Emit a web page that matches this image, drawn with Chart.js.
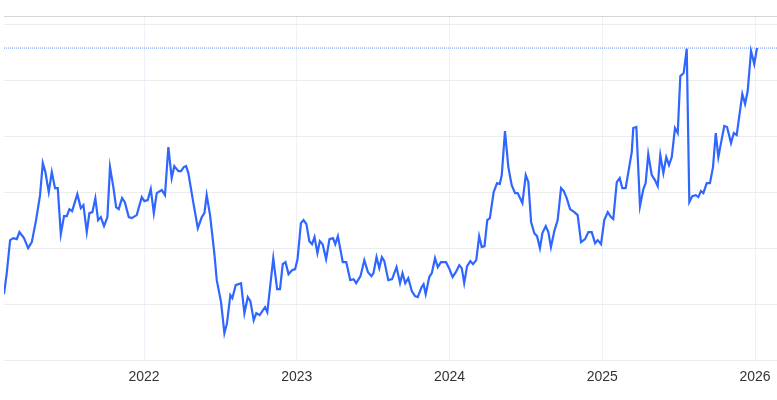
<!DOCTYPE html>
<html lang="en">
<head>
    <meta charset="UTF-8">
    <title>Weekly line</title>
    <script src="https://cdn.jsdelivr.net/npm/chart.js"></script>
    <style>
        body { margin: 0; padding: 0; overflow: hidden; background: white; }
        #wrap { position: relative; width: 777px; height: 400px; }
    </style>
</head>
<body>
    <div id="wrap">
        <canvas id="chart" width="777" height="400"></canvas>
    </div>

    <script>
        // dates as fractional years
        const dates = [
            2021.083, 2021.101, 2021.123, 2021.144, 2021.167, 2021.184, 2021.214, 2021.241, 2021.265, 2021.293,
            2021.319, 2021.337, 2021.354, 2021.376, 2021.396, 2021.417, 2021.435, 2021.455, 2021.476, 2021.494,
            2021.511, 2021.529, 2021.563, 2021.586, 2021.603, 2021.625, 2021.642, 2021.662, 2021.681, 2021.699,
            2021.717, 2021.738, 2021.760, 2021.777, 2021.799, 2021.817, 2021.834, 2021.856, 2021.874, 2021.900,
            2021.919, 2021.952, 2021.985, 2022.002, 2022.024, 2022.044, 2022.064, 2022.083, 2022.116, 2022.137,
            2022.159, 2022.181, 2022.198, 2022.225, 2022.242, 2022.260, 2022.275, 2022.290, 2022.323, 2022.352,
            2022.378, 2022.395, 2022.410, 2022.432, 2022.460, 2022.476, 2022.504, 2022.526, 2022.543, 2022.565,
            2022.578, 2022.600, 2022.635, 2022.657, 2022.679, 2022.696, 2022.718, 2022.735, 2022.757, 2022.792,
            2022.807, 2022.846, 2022.871, 2022.890, 2022.908, 2022.926, 2022.946, 2022.969, 2022.989, 2023.005,
            2023.027, 2023.044, 2023.063, 2023.082, 2023.100, 2023.116, 2023.135, 2023.151, 2023.169, 2023.192,
            2023.214, 2023.237, 2023.252, 2023.269, 2023.301, 2023.324, 2023.350, 2023.372, 2023.389, 2023.417,
            2023.442, 2023.466, 2023.489, 2023.502, 2023.522, 2023.540, 2023.557, 2023.573, 2023.599, 2023.624,
            2023.653, 2023.676, 2023.692, 2023.710, 2023.730, 2023.753, 2023.774, 2023.792, 2023.817, 2023.830,
            2023.844, 2023.867, 2023.884, 2023.905, 2023.923, 2023.944, 2023.977, 2023.997, 2024.020, 2024.041,
            2024.064, 2024.080, 2024.096, 2024.115, 2024.136, 2024.154, 2024.175, 2024.194, 2024.211, 2024.229,
            2024.247, 2024.264, 2024.289, 2024.311, 2024.329, 2024.342, 2024.363, 2024.385, 2024.407, 2024.429,
            2024.446, 2024.477, 2024.499, 2024.516, 2024.534, 2024.555, 2024.573, 2024.592, 2024.608, 2024.630,
            2024.647, 2024.664, 2024.686, 2024.708, 2024.730, 2024.748, 2024.767, 2024.789, 2024.817, 2024.839,
            2024.861, 2024.887, 2024.909, 2024.931, 2024.953, 2024.970, 2024.992, 2025.013, 2025.036, 2025.057,
            2025.072, 2025.095, 2025.114, 2025.131, 2025.153, 2025.193, 2025.203, 2025.223, 2025.247, 2025.269,
            2025.284, 2025.301, 2025.324, 2025.345, 2025.363, 2025.380, 2025.400, 2025.419, 2025.437, 2025.455,
            2025.476, 2025.494, 2025.511, 2025.533, 2025.553, 2025.570, 2025.590, 2025.612, 2025.629, 2025.646,
            2025.662, 2025.684, 2025.705, 2025.725, 2025.743, 2025.760, 2025.777, 2025.799, 2025.817, 2025.843,
            2025.861, 2025.880, 2025.917, 2025.935, 2025.952, 2025.974, 2025.995, 2026.013
        ];
        const values = [
            11.79, 15.54, 21.43, 21.79, 21.61, 22.86, 21.79, 20.00, 21.07, 25.00,
            29.46, 35.18, 33.57, 30.00, 33.57, 30.71, 30.71, 22.50, 25.71, 25.71,
            26.96, 26.61, 29.64, 27.14, 27.68, 22.86, 26.25, 26.43, 28.93, 25.00,
            25.54, 23.93, 25.54, 34.46, 30.89, 27.32, 26.96, 28.93, 28.21, 25.54,
            25.36, 25.89, 29.11, 28.39, 28.57, 30.54, 26.25, 29.82, 30.36, 29.46,
            38.04, 32.50, 34.64, 33.75, 33.75, 34.46, 34.64, 33.39, 28.04, 23.57,
            25.54, 26.25, 29.46, 25.89, 19.11, 14.29, 10.36, 4.82, 6.61, 11.61,
            11.07, 13.39, 13.75, 8.39, 11.25, 10.54, 7.14, 8.39, 8.04, 9.46,
            8.57, 18.21, 12.68, 12.68, 17.14, 17.50, 15.36, 16.07, 16.25, 18.04,
            24.46, 25.00, 24.29, 21.25, 20.71, 21.96, 19.11, 21.25, 20.71, 18.04,
            21.61, 21.79, 20.71, 22.14, 17.50, 17.50, 14.29, 14.46, 13.75, 15.00,
            17.86, 15.71, 15.00, 15.54, 18.39, 16.43, 18.39, 17.68, 14.29, 14.46,
            16.61, 13.75, 15.54, 13.75, 14.64, 12.32, 11.43, 11.25, 13.04, 13.57,
            11.79, 14.82, 15.54, 18.21, 16.61, 17.50, 17.50, 16.43, 14.82, 15.71,
            16.96, 16.43, 13.75, 16.79, 17.68, 17.14, 17.86, 22.14, 20.18, 20.36,
            25.00, 25.36, 30.00, 31.61, 31.43, 33.04, 40.89, 34.46, 31.25, 29.82,
            29.82, 28.04, 33.04, 31.79, 24.64, 22.68, 22.14, 20.00, 22.68, 23.93,
            22.86, 20.18, 23.04, 25.00, 30.71, 30.18, 28.93, 26.96, 26.43, 25.89,
            21.07, 21.61, 22.86, 22.86, 20.89, 21.43, 20.71, 25.00, 26.43, 25.54,
            25.18, 31.79, 32.50, 30.71, 30.71, 37.14, 41.43, 41.61, 27.50, 30.54,
            31.61, 36.79, 33.04, 32.14, 31.07, 36.61, 33.39, 36.25, 34.82, 36.25,
            41.43, 40.54, 50.71, 51.25, 55.60, 28.21, 29.29, 29.46, 29.11, 30.18,
            29.82, 31.61, 31.61, 34.46, 40.54, 36.25, 38.75, 41.79, 41.61, 38.75,
            40.54, 40.18, 47.50, 45.71, 48.04, 55.18, 52.86, 55.71
        ];
        const yearTicks = [2022, 2023, 2024, 2025, 2026];
        const valueTicks = [0, 10, 20, 30, 40, 50, 60];

        const xMin = 2021.083;
        const xMax = 2026.144;
        const yTop = 61.43;
        const peak = Math.max(...values);

        const ctx = document.getElementById('chart').getContext('2d');
        new Chart(ctx, {
            type: 'line',
            data: {
                datasets: [{
                    data: dates.map((d, i) => ({ x: d, y: values[i] })),
                    borderColor: '#2f66ff',
                    borderWidth: 2.2,
                    pointRadius: 0,
                    tension: 0,
                    fill: false
                }, {
                    data: [{ x: xMin, y: peak }, { x: xMax, y: peak }],
                    borderColor: 'rgba(70, 120, 255, 0.8)',
                    borderWidth: 1,
                    borderDash: [1, 1],
                    pointRadius: 0,
                    fill: false
                }]
            },
            options: {
                responsive: false,
                animation: false,
                layout: { padding: { left: 4, right: 0, top: 16, bottom: 5 } },
                plugins: { legend: { display: false }, tooltip: { enabled: false } },
                scales: {
                    x: {
                        type: 'linear',
                        min: xMin,
                        max: xMax,
                        afterBuildTicks: axis => { axis.ticks = yearTicks.map(v => ({ value: v })); },
                        // labels fit inside, so drop the extra side padding
                        afterFit: axis => { axis.paddingLeft = 0; axis.paddingRight = 0; },
                        grid: { color: '#edf2fa', drawTicks: false },
                        border: { display: false },
                        ticks: {
                            autoSkip: false,
                            maxRotation: 0,
                            padding: 9,
                            color: '#333',
                            font: { family: 'Liberation Sans, Arial, sans-serif', size: 14 },
                            callback: v => String(v)
                        }
                    },
                    y: {
                        min: 0,
                        max: yTop,
                        afterBuildTicks: axis => { axis.ticks = valueTicks.concat([yTop]).map(v => ({ value: v })); },
                        grid: {
                            drawTicks: false,
                            color: c => c.tick && c.tick.value === yTop ? '#d6d6d6' : '#ececec'
                        },
                        border: { display: false },
                        ticks: { display: false }
                    }
                }
            }
        });
    </script>
</body>
</html>
